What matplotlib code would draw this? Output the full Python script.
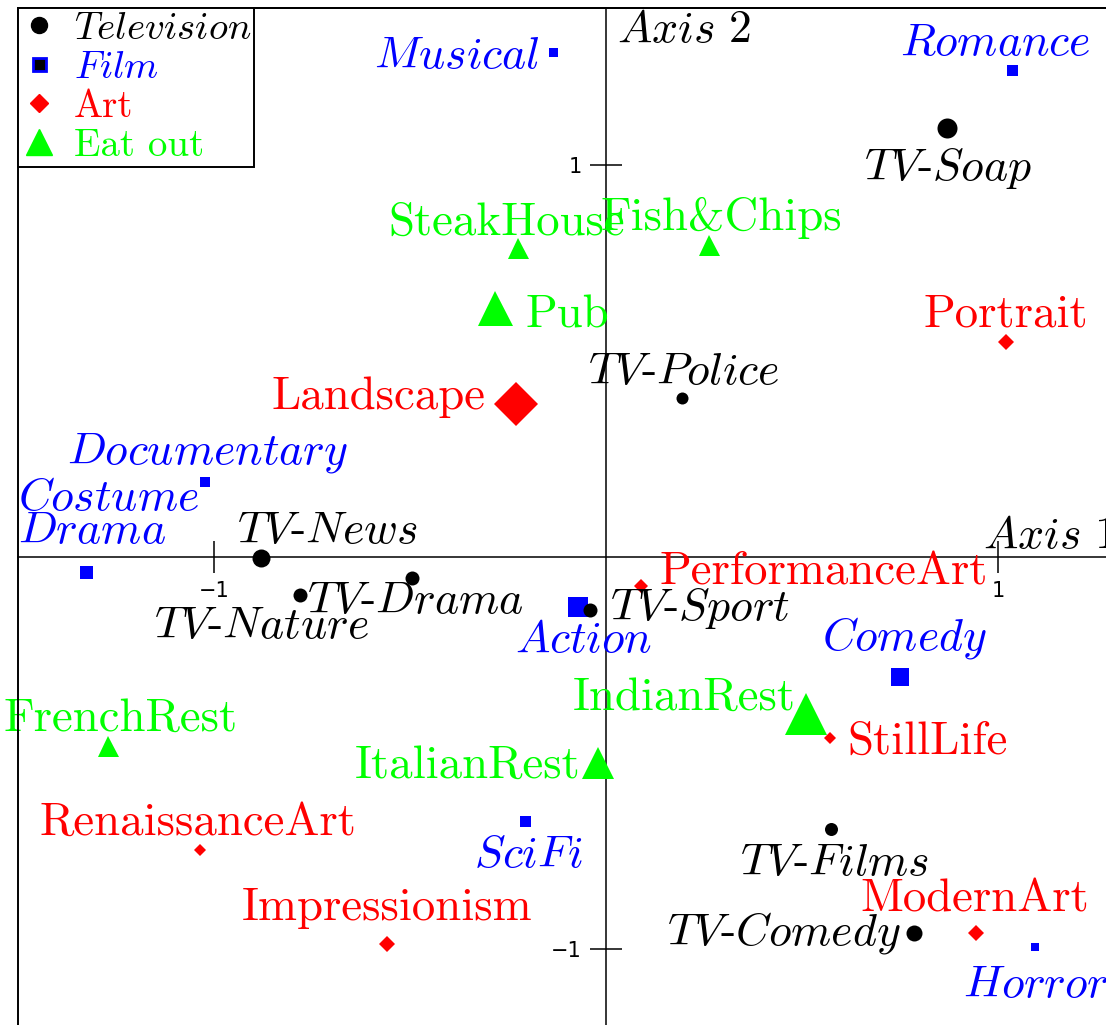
import matplotlib
matplotlib.use('Agg')
import matplotlib.pyplot as plt
from matplotlib.lines import Line2D
from matplotlib.patches import Rectangle

plt.rcParams['font.family'] = ['cmr10', 'DejaVu Sans']
plt.rcParams['mathtext.fontset'] = 'cm'
plt.rcParams['axes.unicode_minus'] = False

# --- data: coordinates on the two principal axes, and point weights ---
tv_names = ['Soap', 'Police', 'News', 'Drama', 'Nature', 'Sport', 'Films', 'Comedy']
tv_x = [0.870, 0.194, -0.880, -0.495, -0.781, -0.041, 0.574, 0.786]
tv_y = [1.094, 0.406, -0.003, -0.054, -0.097, -0.135, -0.694, -0.959]
tv_mass = [20, 12, 18, 14, 14, 14, 13, 16]

film_names = ['Musical', 'Romance', 'Documentary', 'Costume Drama', 'Action',
              'Comedy', 'SciFi', 'Horror']
film_x = [-0.135, 1.036, -1.023, -1.327, -0.071, 0.750, -0.207, 1.094]
film_y = [1.288, 1.242, 0.191, -0.038, -0.128, -0.306, -0.673, -0.995]
film_mass = [9, 11, 10, 13, 20, 18, 11, 8]

art_names = ['Landscape', 'Portrait', 'PerformanceArt', 'StillLife',
             'RenaissanceArt', 'Impressionism', 'ModernArt']
art_x = [-0.230, 1.020, 0.089, 0.571, -1.036, -0.559, 0.944]
art_y = [0.390, 0.548, -0.074, -0.462, -0.747, -0.987, -0.959]
art_mass = [31, 11, 10.5, 9, 8, 12, 11]

eat_names = ['SteakHouse', 'Fish&Chips', 'Pub', 'IndianRest', 'ItalianRest', 'FrenchRest']
eat_x = [-0.224, 0.263, -0.283, 0.510, -0.020, -1.270]
eat_y = [0.788, 0.796, 0.635, -0.401, -0.526, -0.482]
eat_mass = [21, 21, 35, 42, 32, 21]

# label placement: (ha, dx px, dy px down from point to baseline)
tv_place = [('center', 1, 52), ('center', 2, -14), ('center', 66, -15), ('center', 3, 35),
            ('center', -38, 43), ('left', 20, 10), ('center', 4, 46), ('right', -14, 12)]
film_place = [('right', -13, 16), ('center', -17, -15), ('center', 3, -19), ('left', -68, -29),
              ('center', 5, 45), ('center', 4, -27), ('center', 3, 46), ('center', 1, 50)]
art_place = [('right', -30, 5), ('center', 0, -16), ('left', 19, -1), ('left', 18, 16),
             ('center', -2, -15), ('center', 0, -24), ('center', -1, -21)]
eat_place = [('center', -12, -13), ('center', 12, -15), ('left', 30, 19), ('right', -10, -4),
             ('right', -18, 15), ('center', 12, -15)]

BLUE, RED, GREEN = '#0000ff', '#ff0000', '#00ff00'
PX = 72 / 100  # pixels -> points
FS = 33.7      # roman labels
FS_IT = 33.0   # italic labels

fig = plt.figure(figsize=(11.06, 10.25), dpi=100)
ax = fig.add_axes([18 / 1106, -25 / 1025, 1112 / 1106, 1042 / 1025])
ax.set_xlim(-1.5, 1.3367)
ax.set_ylim(-1.2577, 1.4005)

# axes through the origin, plus an outer frame
ax.spines['left'].set_position('zero')
ax.spines['bottom'].set_position('zero')
ax.spines['right'].set_visible(False)
for s in ['left', 'bottom']:
    ax.spines[s].set_linewidth(1.1)
ax.spines['top'].set_linewidth(1.4)
ax.add_patch(Rectangle((0, 0), 1, 1, transform=ax.transAxes, fill=False,
                       lw=1.4, ec='black', clip_on=False, zorder=5))

ax.set_xticks([-1, 1])
ax.set_yticks([-1, 1])
ax.set_xticklabels(['\u22121', '1'], fontfamily='DejaVu Sans', fontsize=15)
ax.set_yticklabels(['\u22121', '1'], fontfamily='DejaVu Sans', fontsize=15)
ax.tick_params(axis='x', direction='inout', length=32 * PX, width=1.1, pad=6)
ax.tick_params(axis='y', direction='inout', length=32 * PX, width=1.1, pad=6)


def draw(xs, ys, mass, names, place, marker, color, fmt, fs, z=3):
    for x, y, m, n, (ha, dx, dy) in zip(xs, ys, mass, names, place):
        ax.plot(x, y, marker=marker, ls='', color=color, mec=color, mew=0,
                ms=m * PX, zorder=z)
        ax.annotate(fmt(n), (x, y), xytext=(dx, -dy), textcoords='offset pixels',
                    ha=ha, va='baseline', color=color, fontsize=fs,
                    linespacing=0.72)


def italic(n):
    return '\n'.join('$' + w + '$' for w in n.split(' '))


draw(film_x, film_y, film_mass, film_names, film_place, 's', BLUE, italic, FS_IT)
draw(art_x, art_y, art_mass, art_names, art_place, 'D', RED, lambda n: n, FS)
draw(eat_x, eat_y, eat_mass, eat_names, eat_place, '^', GREEN, lambda n: n, FS)
draw(tv_x, tv_y, tv_mass, tv_names, tv_place, 'o', 'black',
     lambda n: '$TV$-$' + n + '$', FS_IT, z=4)

ax.annotate('$Axis\\ 2$', (0, 1.4005), xytext=(11, -34), textcoords='offset pixels',
            ha='left', va='baseline', fontsize=FS_IT)
ax.annotate('$Axis\\ 1$', (1, 0), xytext=(-15, 9), textcoords='offset pixels',
            ha='left', va='baseline', fontsize=FS_IT)

handles = [
    Line2D([], [], marker='o', ls='', color='black', ms=16 * PX),
    Line2D([], [], marker='s', ls='', mfc='black', mec=BLUE, mew=2, ms=13 * PX),
    Line2D([], [], marker='D', ls='', color=RED, ms=13 * PX),
    Line2D([], [], marker='^', ls='', color=GREEN, ms=27 * PX),
]
leg = ax.legend(handles, ['$Television$', '$Film$', 'Art', 'Eat out'],
                loc='upper left', borderaxespad=0, fancybox=False, framealpha=1,
                edgecolor='black', fontsize=28, handlelength=0.9,
                handletextpad=0.45, labelspacing=0.08, borderpad=0.08)
leg.get_frame().set_linewidth(1.4)
for t, c in zip(leg.get_texts(), ['black', BLUE, RED, GREEN]):
    t.set_color(c)

fig.savefig('out.png', dpi=100)
